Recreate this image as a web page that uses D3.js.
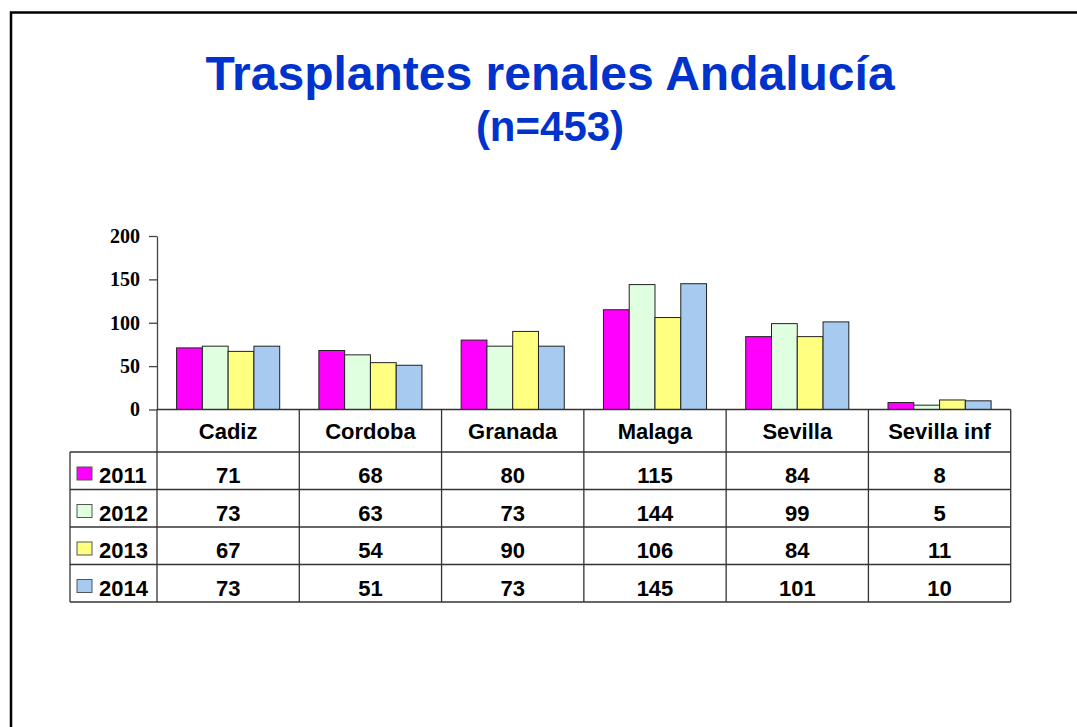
<!DOCTYPE html>
<html>
<head>
<meta charset="utf-8">
<script src="https://cdn.jsdelivr.net/npm/d3@7"></script>
<style>
  body { margin: 0; background: #fff; }
  svg { display: block; }
</style>
</head>
<body>
<div class="root"></div>
<script>
const width = 1077;
const height = 727;

const categories = ["Cadiz", "Cordoba", "Granada", "Malaga", "Sevilla", "Sevilla inf"];
const years = ["2011", "2012", "2013", "2014"];
const v2011 = [71, 68, 80, 115, 84, 8];
const v2012 = [73, 63, 73, 144, 99, 5];
const v2013 = [67, 54, 90, 106, 84, 11];
const v2014 = [73, 51, 73, 145, 101, 10];
const yTicks = [0, 50, 100, 150, 200];
const colors = ["#ff00ff", "#e0ffe0", "#ffff80", "#a6caf0"];

const series = [v2011, v2012, v2013, v2014];

const plotLeft = 157, plotRight = 1010.7, plotTop = 236, base = 409.5;
const tableLeft = 70;
const headerBottom = 452;
const rowH = 37.5;

const svg = d3
  .select(".root")
  .append("svg")
  .attr("width", width)
  .attr("height", height);

// frame
svg.append("rect")
  .attr("x", 11).attr("y", 12.5)
  .attr("width", 1100).attr("height", 800)
  .attr("fill", "none")
  .attr("stroke", "#000")
  .attr("stroke-width", 2.5);

// title
svg.append("text")
  .attr("x", 550).attr("y", 90)
  .attr("text-anchor", "middle")
  .attr("font-family", "Liberation Sans, Arial, sans-serif")
  .attr("font-weight", "bold")
  .attr("font-size", 48)
  .attr("fill", "#0033cc")
  .text("Trasplantes renales Andalucía");

svg.append("text")
  .attr("x", 550).attr("y", 141)
  .attr("text-anchor", "middle")
  .attr("font-family", "Liberation Sans, Arial, sans-serif")
  .attr("font-weight", "bold")
  .attr("font-size", 42)
  .attr("fill", "#0033cc")
  .text("(n=453)");

const x = d3.scaleBand().domain(categories).range([plotLeft, plotRight]).padding(0);
const xi = d3.scaleBand().domain(years).range([0, x.bandwidth()])
  .paddingInner(0).paddingOuter(0.76);
const y = d3.scaleLinear().domain([0, 200]).range([base, plotTop]);

// bars
const groups = svg.append("g")
  .selectAll("g")
  .data(categories)
  .join("g")
  .attr("transform", (d) => `translate(${x(d)},0)`);

groups.selectAll("rect")
  .data((d, i) => years.map((yr, k) => ({ yr, k, v: series[k][i] })))
  .join("rect")
  .attr("x", (d) => xi(d.yr))
  .attr("y", (d) => y(d.v))
  .attr("width", xi.bandwidth())
  .attr("height", (d) => base - y(d.v))
  .attr("fill", (d) => colors[d.k])
  .attr("stroke", "#222")
  .attr("stroke-width", 1);

// y axis
const yAxis = svg.append("g")
  .attr("transform", `translate(${plotLeft},0)`)
  .call(d3.axisLeft(y).tickValues(yTicks).tickSize(8).tickSizeOuter(0).tickPadding(9));
yAxis.select(".domain").attr("stroke", "#444").attr("stroke-width", 1.3);
yAxis.selectAll(".tick line").attr("stroke", "#444").attr("stroke-width", 1.3);
yAxis.selectAll(".tick text")
  .attr("font-family", "Liberation Serif, Times New Roman, serif")
  .attr("font-weight", "bold")
  .attr("font-size", 20)
  .attr("fill", "#000");

// table
const lineColor = "#333";
const tableBottom = headerBottom + rowH * years.length;
const bounds = categories.map((c) => x(c)).concat([plotRight]);

svg.append("line")
  .attr("x1", plotLeft).attr("x2", plotRight)
  .attr("y1", base).attr("y2", base)
  .attr("stroke", lineColor).attr("stroke-width", 1.5);

svg.append("g")
  .selectAll("line")
  .data(bounds)
  .join("line")
  .attr("x1", (d) => d).attr("x2", (d) => d)
  .attr("y1", base).attr("y2", tableBottom)
  .attr("stroke", lineColor).attr("stroke-width", 1.3);

svg.append("line")
  .attr("x1", tableLeft).attr("x2", tableLeft)
  .attr("y1", headerBottom).attr("y2", tableBottom)
  .attr("stroke", lineColor).attr("stroke-width", 1.3);

svg.append("g")
  .selectAll("line")
  .data(d3.range(years.length + 1))
  .join("line")
  .attr("x1", tableLeft).attr("x2", plotRight)
  .attr("y1", (d) => headerBottom + d * rowH)
  .attr("y2", (d) => headerBottom + d * rowH)
  .attr("stroke", lineColor).attr("stroke-width", 1.3);

const font = "Liberation Sans, Arial, sans-serif";

svg.append("g")
  .selectAll("text")
  .data(categories)
  .join("text")
  .attr("x", (d) => x(d) + x.bandwidth() / 2)
  .attr("y", 439)
  .attr("text-anchor", "middle")
  .attr("font-family", font)
  .attr("font-weight", "bold")
  .attr("font-size", 22)
  .text((d) => d);

const rows = svg.append("g")
  .selectAll("g")
  .data(years)
  .join("g")
  .attr("transform", (d, k) => `translate(0,${headerBottom + k * rowH})`);

rows.append("rect")
  .attr("x", 77).attr("y", 15)
  .attr("width", 15).attr("height", 13)
  .attr("fill", (d, k) => colors[k])
  .attr("stroke", "#555")
  .attr("stroke-width", 1);

rows.append("text")
  .attr("x", 99).attr("y", 31)
  .attr("font-family", font)
  .attr("font-weight", "bold")
  .attr("font-size", 22)
  .text((d) => d);

rows.selectAll("text.val")
  .data((d, k) => series[k].map((v, i) => ({ v, c: categories[i] })))
  .join("text")
  .attr("class", "val")
  .attr("x", (d) => x(d.c) + x.bandwidth() / 2)
  .attr("y", 31)
  .attr("text-anchor", "middle")
  .attr("font-family", font)
  .attr("font-weight", "bold")
  .attr("font-size", 22)
  .text((d) => d.v);
</script>
</body>
</html>
